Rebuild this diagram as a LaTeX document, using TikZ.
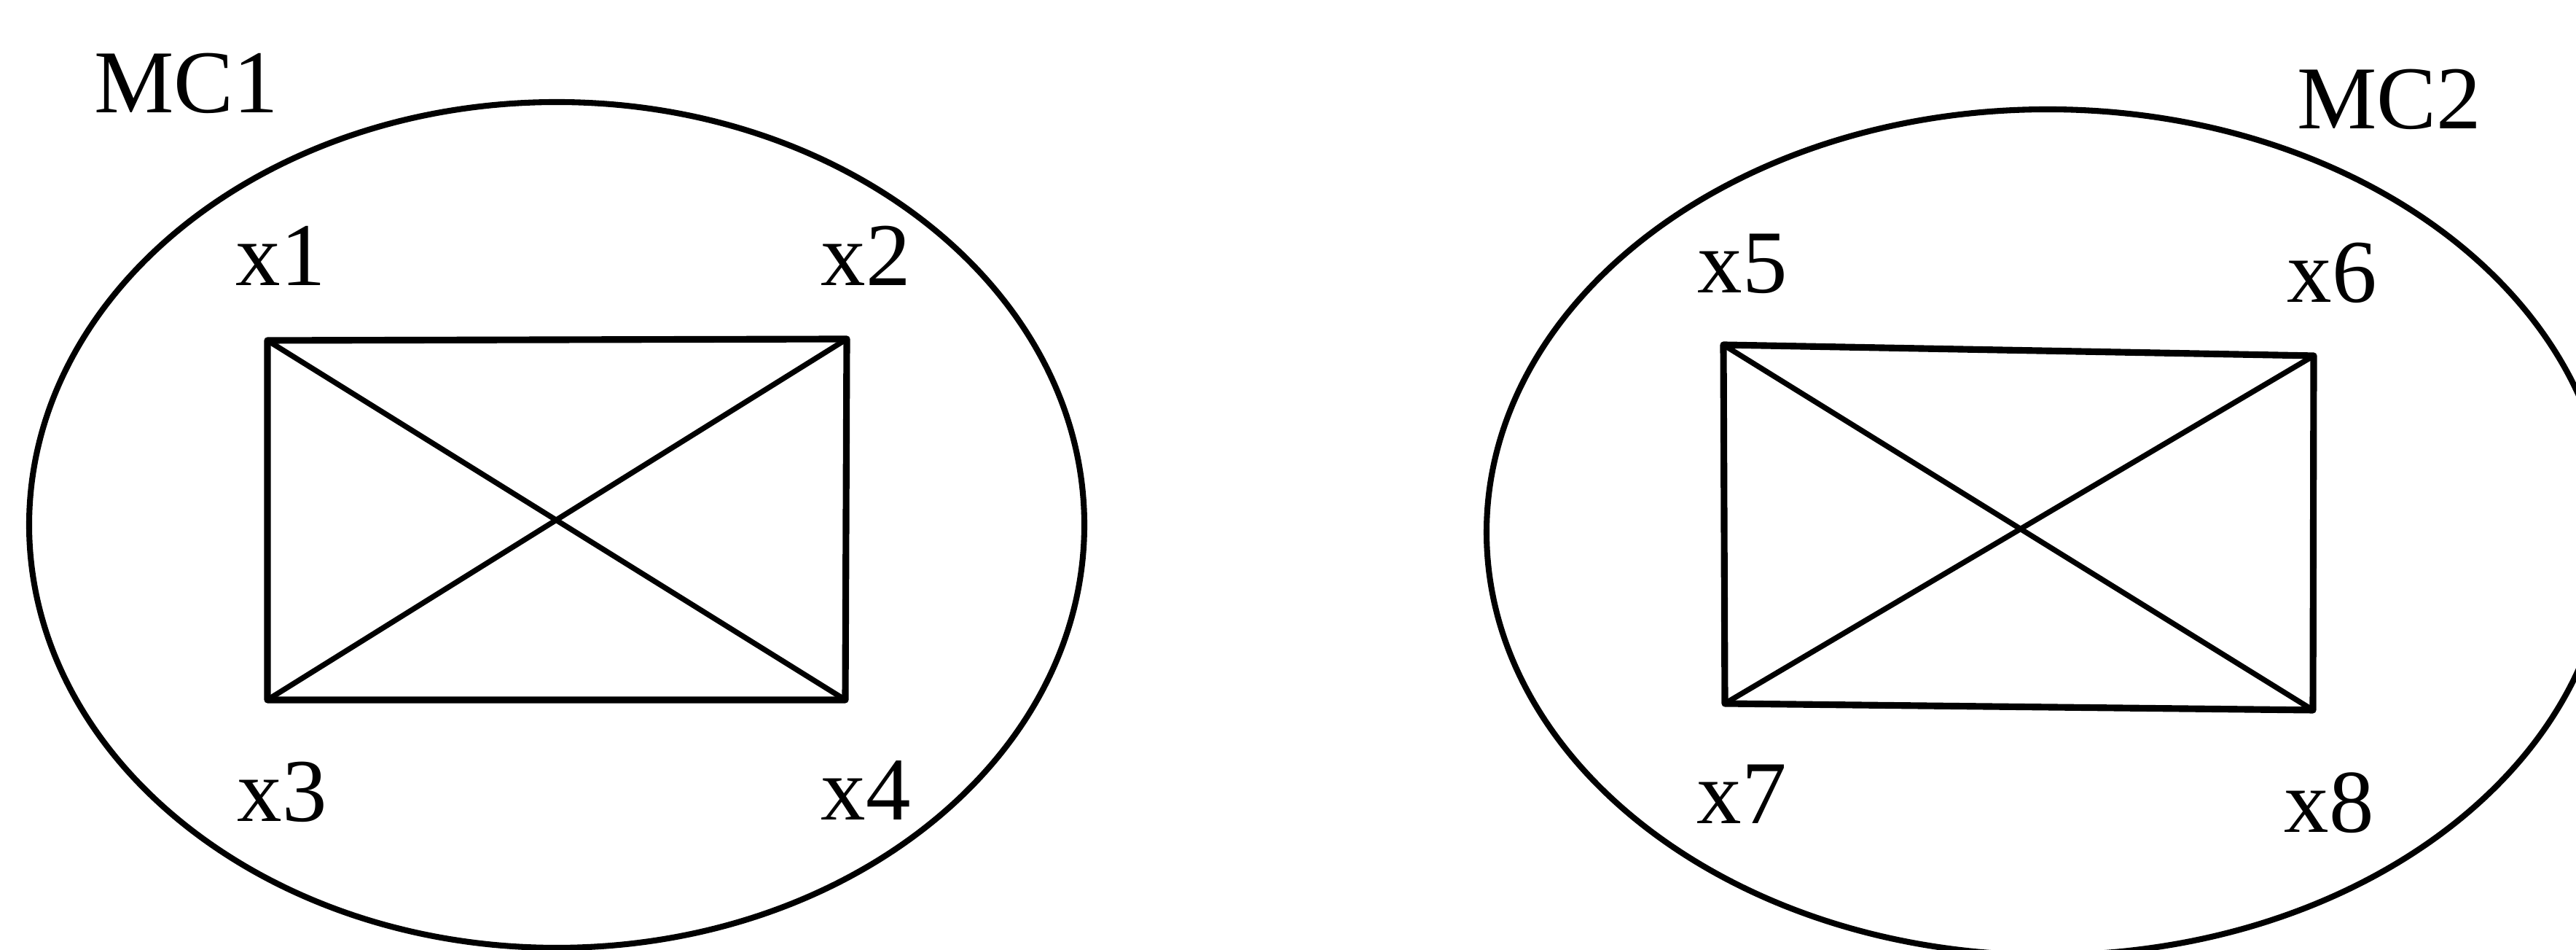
\documentclass[tikz,border=0pt]{standalone}
\usepackage{fontspec}
\setmainfont{Liberation Serif}
\usepackage{tikz}
\usetikzlibrary{positioning}
\tikzset{
    % Cluster outline
    clusterline/.style={
        line width=2.3pt,
        draw=black
    },
    % Rectangle sides
    sideline/.style={
        line width=2.6pt,
        draw=black,
        line cap=round,
        line join=round
    },
    % Diagonals
    diagline/.style={
        line width=2.1pt,
        draw=black,
        line cap=round
    },
    % Vertex label
    vlabel/.style={
        anchor=base,
        inner sep=0pt,
        font=\fontsize{35}{40}\selectfont
    },
    % Cluster label
    clabel/.style={
        anchor=base,
        inner sep=0pt,
        font=\fontsize{35}{40}\selectfont
    }
}

\begin{document}
\begin{tikzpicture}
    \useasboundingbox (0,0) rectangle (35.35,13.03);
    \clip (0,0) rectangle (35.35,13.03);

    % cluster MC1
    \coordinate (c1) at (7.64,5.83);
    \draw[clusterline] (c1) ellipse [x radius=7.24, y radius=5.80];
    \node[clabel] (mc1) at (2.56,11.48) {MC1};

    \coordinate (v1) at (3.67,8.36);
    \coordinate (v2) at (11.62,8.38);
    \coordinate (v3) at (3.67,3.43);
    \coordinate (v4) at (11.60,3.43);

    \draw[sideline] (v1) -- (v2) -- (v4) -- (v3) -- cycle;
    \draw[diagline] (v1) -- (v4);
    \draw[diagline] (v2) -- (v3);

    \node[vlabel] (l1) at (3.85,9.11) {x1};
    \node[vlabel] (l2) at (11.88,9.11) {x2};
    \node[vlabel] (l3) at (3.87,1.76) {x3};
    \node[vlabel] (l4) at (11.88,1.78) {x4};

    % cluster MC2
    \coordinate (c2) at (28.10,5.73);
    \draw[clusterline] (c2) ellipse [x radius=7.70, y radius=5.80];
    \node[clabel] (mc2) at (32.79,11.26) {MC2};

    \coordinate (v5) at (23.65,8.30);
    \coordinate (v6) at (31.75,8.15);
    \coordinate (v7) at (23.67,3.38);
    \coordinate (v8) at (31.74,3.29);

    \draw[sideline] (v5) -- (v6) -- (v8) -- (v7) -- cycle;
    \draw[diagline] (v5) -- (v8);
    \draw[diagline] (v6) -- (v7);

    \node[vlabel] (l5) at (23.91,9.01) {x5};
    \node[vlabel] (l6) at (32.00,8.88) {x6};
    \node[vlabel] (l7) at (23.90,1.73) {x7};
    \node[vlabel] (l8) at (31.96,1.61) {x8};
\end{tikzpicture}
\end{document}
